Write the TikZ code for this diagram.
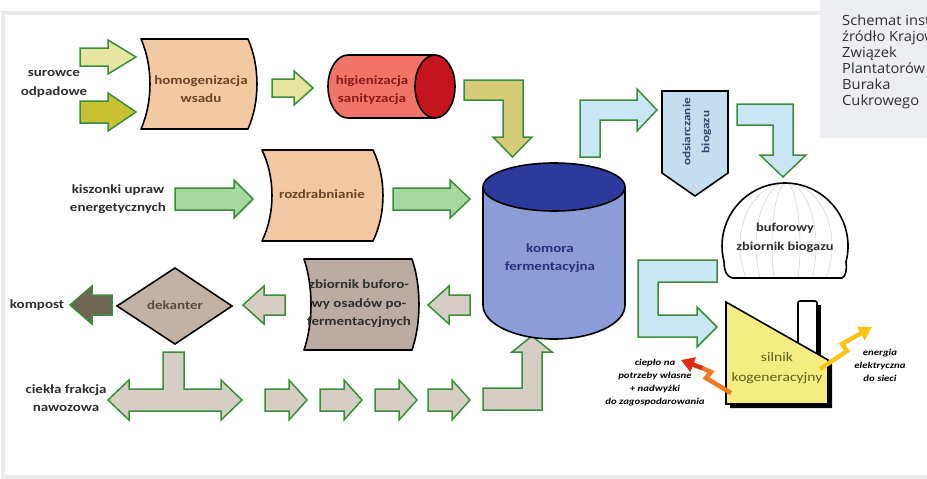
\documentclass[tikz,border=0pt]{standalone}
\usepackage{fontspec}
\newfontfamily\dfont[FakeStretch=1.2]{Carlito}
\newfontfamily\capfont[FakeStretch=1.05]{Open Sans}
\usetikzlibrary{arrows.meta}
\definecolor{agreen}{HTML}{3C8C3C}
\definecolor{ylight}{HTML}{E6E6A2}
\definecolor{yolive}{HTML}{C8C232}
\definecolor{ykhaki}{HTML}{D6CC7A}
\definecolor{gfill}{HTML}{A6D8A0}
\definecolor{peach}{HTML}{F2C9A2}
\definecolor{hred}{HTML}{F07468}
\definecolor{hdark}{HTML}{C41420}
\definecolor{kbody}{HTML}{8C9CD6}
\definecolor{ktop}{HTML}{2C3A9C}
\definecolor{lblue}{HTML}{C8E6F4}
\definecolor{obox}{HTML}{C4DEF0}
\definecolor{dek}{HTML}{C2B2A6}
\definecolor{zb}{HTML}{BAABA3}
\definecolor{lgrey}{HTML}{D6CEC4}
\definecolor{kdark}{HTML}{6E6652}
\definecolor{syel}{HTML}{F4EE82}
\definecolor{framec}{HTML}{EBEBEB}
\definecolor{capbg}{HTML}{ECEEF1}
\definecolor{tbrown}{HTML}{6A4428}
\definecolor{tred}{HTML}{8A1A1A}
\definecolor{tblue}{HTML}{26307A}
\definecolor{tblue2}{HTML}{34466E}
\definecolor{tgray}{HTML}{2E2E2E}
\definecolor{tdek}{HTML}{5A4A40}
\definecolor{tolive}{HTML}{5E5E1E}
\definecolor{boltY}{HTML}{F5C518}
\definecolor{boltO}{HTML}{F07A20}
\definecolor{boltR}{HTML}{E02A10}
\definecolor{merid}{HTML}{D8D8D8}
% block arrow: style, tail x, head base x, tip x, y, shaft half, head half
\newcommand{\hblock}[7]{\draw[#1] (#2,{#5-#6}) -- (#3,{#5-#6}) -- (#3,{#5-#7}) -- (#4,#5) -- (#3,{#5+#7}) -- (#3,{#5+#6}) -- (#2,{#5+#6}) -- cycle;}
% curved box: style, x1, y1, x2, y2, bulge
\newcommand{\wbox}[6]{\draw[#1] (#2,#3) -- (#4,#3) .. controls ({#4+#6*1.33},{#3+(#5-#3)*0.3}) and ({#4+#6*1.33},{#3+(#5-#3)*0.7}) .. (#4,#5) -- (#2,#5) .. controls ({#2+#6*1.33},{#3+(#5-#3)*0.7}) and ({#2+#6*1.33},{#3+(#5-#3)*0.3}) .. (#2,#3) -- cycle;}
\newcommand{\domepath}{(732,278) .. controls (726,276) and (724,270) .. (724.1,262) arc[start angle=194.7, end angle=-14.7, radius=63pt] .. controls (847,270) and (846,276) .. (842,278) -- cycle}
\begin{document}
\begin{tikzpicture}[x=1pt,y=-1pt,
  arrw/.style={draw=agreen, line width=1.5pt, line join=miter},
  shp/.style={draw=black, line width=1.6pt, line join=round},
  lbl/.style={font=\dfont\bfseries\fontsize{12.5}{18.5}\selectfont, align=center, inner sep=0pt},
  sml/.style={font=\dfont\bfseries\itshape\fontsize{9}{13}\selectfont, align=center, inner sep=0pt, text=black},
  captxt/.style={font=\capfont\fontsize{14}{16}\selectfont, anchor=base west, inner sep=0pt, text=tgray}]
\useasboundingbox (0,0) rectangle (927,479);
\fill[white] (0,0) rectangle (927,479);
\draw[framec, line width=4pt] (930,12.5) -- (2.5,12.5) -- (2.5,476.5) -- (930,476.5);
\fill[capbg] (820,0) rectangle (927,138);

% ---- straight block arrows ----
\hblock{arrw,fill=ylight}{80}{108}{136}{57}{9}{17}
\hblock{arrw,fill=yolive}{80}{108}{136}{112}{11}{19}
\hblock{arrw,fill=ylight}{272}{294}{313}{88}{9}{17}
\hblock{arrw,fill=gfill}{175}{234}{253}{199}{11}{19}
\hblock{arrw,fill=gfill}{393}{450}{470}{199}{11}{19}
\hblock{arrw,fill=kdark}{112}{92}{70}{305}{10}{19}
\hblock{arrw,fill=lgrey}{285}{264}{243}{305}{10}{19}
\hblock{arrw,fill=lgrey}{470}{449}{428}{305}{10}{19}
\foreach \t in {265,320,375,428}{\hblock{arrw,fill=lgrey}{\t}{\t+24}{\t+42}{400}{11}{20}}

% ---- bent arrows ----
\draw[arrw,fill=ykhaki] (464,80) -- (523,80) -- (523,137) -- (532,137) -- (512.5,157) -- (493,137) -- (503,137) -- (503,100) -- (464,100) -- cycle;
\draw[arrw,fill=lblue] (580,157) -- (580,100) -- (637,100) -- (637,89) -- (657,110) -- (637,131) -- (637,120) -- (600,120) -- (600,157) -- cycle;
\draw[arrw,fill=lblue] (737,104) -- (793,104) -- (793,155) -- (806,155) -- (783,177) -- (760,155) -- (773,155) -- (773,125) -- (737,125) -- cycle;
\draw[arrw,fill=lblue] (638,260) -- (717,260) -- (717,282) -- (658,282) -- (658,315) -- (697,315) -- (697,307) -- (717,327) -- (697,347) -- (697,337) -- (638,337) -- cycle;
\draw[arrw,fill=lgrey] (483,388) -- (522,388) -- (522,352) -- (512,352) -- (532,336) -- (552,352) -- (542,352) -- (542,410) -- (483,410) -- cycle;
% double arrow with stem under dekanter
\draw[arrw,fill=lgrey] (108,400) -- (129,380) -- (129,389) -- (163,389) -- (163,352) -- (184,352) -- (184,389) -- (221,389) -- (221,380) -- (242,400) -- (221,420) -- (221,411) -- (129,411) -- (129,420) -- cycle;

% ---- process shapes ----
\wbox{shp,fill=peach}{141}{39}{248}{129}{9}
\wbox{shp,fill=peach}{262}{150}{373}{241}{10}
\wbox{shp,fill=zb}{304}{259}{412}{350}{7}
% higienizacja cylinder
\draw[shp,fill=hred] (435,55) -- (348,55) arc[start angle=90, end angle=270, x radius=20pt, y radius=31.5pt] -- (435,118) -- cycle;
\draw[shp,fill=hdark] (435,86.5) ellipse[x radius=20pt, y radius=31.5pt];
% komora cylinder
\draw[shp,fill=kbody] (483,187) -- (483,305) arc[start angle=180, end angle=360, x radius=71pt, y radius=34pt] -- (625,187) -- cycle;
\draw[shp,fill=ktop] (554,187) ellipse[x radius=71pt, y radius=24pt];
% odsiarczanie
\draw[shp,fill=obox,line join=miter] (662,91) -- (728,91) -- (728,173) -- (695,196) -- (662,173) -- cycle;
% dome
\fill[white] \domepath;
\begin{scope}
\clip \domepath;
\foreach \r in {14,30,46}{\draw[merid, line width=0.6pt] (786,246) ellipse[x radius=\r pt, y radius=63pt];}
\end{scope}
\draw[shp] \domepath;
% dekanter
\draw[shp,fill=dek,line join=miter] (117,306) -- (175,268) -- (232,306) -- (175,344) -- cycle;
% silnik
\fill[black] (801,305) rectangle (821,356);
\fill[black] (730,306) -- (832,364) -- (832,408) -- (730,408) -- cycle;
\draw[shp,fill=white,rounded corners=2pt] (798,356) -- (798,301) -- (817,301) -- (817,356);
\draw[shp,fill=syel,line join=miter] (726,302) -- (828,360) -- (828,404) -- (726,404) -- cycle;
% bolts
\draw[boltY, line width=4.5pt, line join=miter, -{Triangle[width=15pt,length=13pt]}] (820,369) -- (847,351) -- (842,344) -- (872,327);
\draw[boltO, line width=4.5pt, line join=miter] (731,393) -- (706,378) -- (711,372) -- (700,367);
\draw[boltR, line width=4.5pt, -{Triangle[width=15pt,length=13pt]}] (702,368) -- (681,360);

% ---- labels ----
\node[lbl, text=tgray] (surowce) at (54,84) {surowce\\odpadowe};
\node[lbl, text=tbrown] (homog) at (201,89) {homogenizacja\\wsadu};
\node[lbl, text=tred] (higien) at (372,90) {higienizacja\\sanityzacja};
\node[lbl, text=tgray] (kisz) at (118,199) {kiszonki upraw\\energetycznych};
\node[lbl, text=tbrown] (rozdr) at (322,194) {rozdrabnianie};
\node[lbl, text=tblue] (komora) at (550,258) {komora\\fermentacyjna};
\node[lbl, text=tblue2, rotate=90, font=\dfont\bfseries\fontsize{11}{19}\selectfont] (odsiarcz) at (697,132) {odsiarczanie\\biogazu};
\node[lbl, text=tgray, font=\dfont\bfseries\fontsize{12}{18.5}\selectfont] (bufor) at (785,238) {buforowy\\zbiornik biogazu};
\node[lbl, text=tgray] (kompost) at (37,305) {kompost};
\node[lbl, text=tdek] (dekanter) at (175,305) {dekanter};
\node[lbl, text=tgray] (zbiornik) at (359,304) {zbiornik buforo-\\wy osadów po-\\fermentacyjnych};
\node[lbl, text=tgray] (ciekla) at (66,398) {ciekła frakcja\\nawozowa};
\node[lbl, text=tolive, font=\dfont\fontsize{13}{20}\selectfont] (silnik) at (777,368) {silnik\\kogeneracyjny};
\node[sml] (energia) at (880,365) {energia\\elektryczna\\do sieci};
\node[sml] (cieplo) at (655,383) {ciepło na\\potrzeby własne\\+ nadwyżki\\do zagospodarowania};

% ---- caption ----
\begin{scope}
\clip (820,0) rectangle (927,138);
\node[captxt] (cap1) at (842,25) {Schemat inst};
\node[captxt] (cap2) at (842,41) {źródło Krajow};
\node[captxt] (cap3) at (842,57) {Związek};
\node[captxt] (cap4) at (842,73) {Plantatorów};
\node[captxt] (cap5) at (842,89) {Buraka};
\node[captxt] (cap6) at (842,105) {Cukrowego};
\end{scope}
\end{tikzpicture}
\end{document}
